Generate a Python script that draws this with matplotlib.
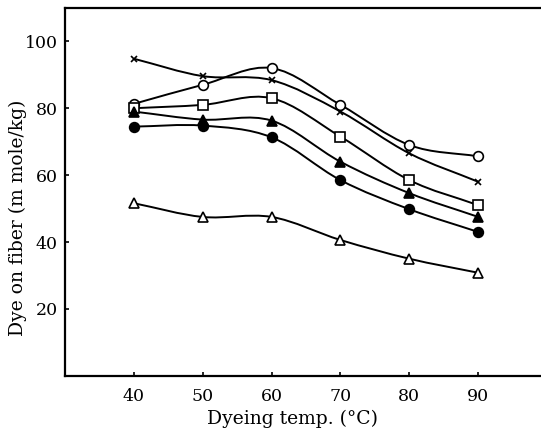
import matplotlib.pyplot as plt
from matplotlib.path import Path
from matplotlib.patches import PathPatch
import numpy as np

temps = [40, 50, 60, 70, 80, 90]

# dye on fiber (m mole/kg), one list per curve
cross = [94.8, 89.6, 88.4, 79.0, 66.5, 58.0]
circle_open = [81.3, 87.0, 92.0, 81.0, 69.0, 65.6]
square_open = [80.0, 81.0, 83.0, 71.5, 58.5, 51.0]
triangle_filled = [79.0, 76.6, 76.3, 64.0, 54.6, 47.5]
circle_filled = [74.5, 74.8, 71.3, 58.5, 49.8, 43.0]
triangle_open = [51.6, 47.5, 47.5, 40.6, 35.0, 30.8]


def smooth_path(xs, ys):
    # Catmull-Rom through the points, drawn as cubic Bezier segments
    pts = np.column_stack([xs, ys]).astype(float)
    ext = np.vstack([2 * pts[0] - pts[1], pts, 2 * pts[-1] - pts[-2]])
    verts = [pts[0]]
    codes = [Path.MOVETO]
    for i in range(1, len(ext) - 2):
        p0, p1, p2, p3 = ext[i - 1], ext[i], ext[i + 1], ext[i + 2]
        c1 = p1 + (p2 - p0) / 6.0
        c2 = p2 - (p3 - p1) / 6.0
        verts += [c1, c2, p2]
        codes += [Path.CURVE4] * 3
    return Path(verts, codes)


plt.rcParams['font.family'] = ['DejaVu Serif']

figure = plt.figure(figsize=(5.41, 4.38), dpi=100)
ax = figure.add_axes([0.120, 0.142, 0.885, 0.840])

series = [
    (cross, 'x', 'black', 5),
    (circle_open, 'o', 'white', 7),
    (square_open, 's', 'white', 7),
    (triangle_filled, '^', 'black', 7),
    (circle_filled, 'o', 'black', 7),
    (triangle_open, '^', 'white', 7),
]

for values, marker, face, size in series:
    ax.add_patch(PathPatch(smooth_path(temps, values), fill=False,
                           edgecolor='black', lw=1.4, zorder=2))
    ax.plot(temps, values, linestyle='none', marker=marker, markersize=size,
            markerfacecolor=face, markeredgecolor='black', markeredgewidth=1.2,
            zorder=3)

ax.set_xlim(30, 99.5)
ax.set_ylim(0, 110)
ax.set_xticks(temps)
ax.set_yticks([20, 40, 60, 80, 100])
ax.spines['right'].set_visible(False)
for s in ['left', 'bottom', 'top']:
    ax.spines[s].set_linewidth(1.6)
ax.tick_params(direction='in', length=3, width=1.2, labelsize=12.5)
ax.tick_params(axis='x', pad=9)
ax.tick_params(axis='y', pad=5)

ax.set_xlabel('Dyeing temp. (°C)', fontsize=13.5)
ax.set_ylabel('Dye on fiber (m mole/kg)', fontsize=13.5)
ax.xaxis.set_label_coords(0.475, -0.093)
ax.yaxis.set_label_coords(-0.080, 0.43)

plt.savefig('out.png', dpi=100)
